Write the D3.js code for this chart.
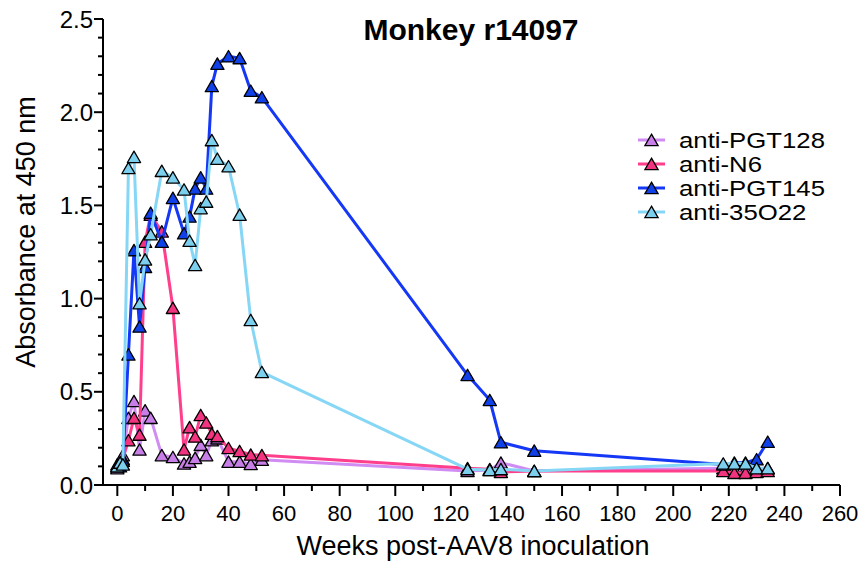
<!DOCTYPE html>
<html><head><meta charset="utf-8">
<script src="https://cdn.jsdelivr.net/npm/d3@7"></script>
<style>html,body{margin:0;padding:0;background:#fff;}svg{display:block;}</style>
</head><body>
<svg id="chart" width="867" height="564"></svg>
<script>
const title = "Monkey r14097";
const xLabel = "Weeks post-AAV8 inoculation";
const yLabel = "Absorbance at 450 nm";
const weeks = [0,1,2,4,6,8,10,12,16,20,24,26,28,30,32,34,36,40,44,48,52,126,134,138,150,218,222,226,230,234];
const seriesNames = ["anti-PGT128","anti-N6","anti-PGT145","anti-35O22"];
const pgt128 = [0.09,0.13,0.16,0.36,0.45,0.19,0.40,0.36,0.16,0.15,0.115,0.125,0.145,0.215,0.16,0.24,0.25,0.125,0.125,0.113,0.135,0.075,0.08,0.12,0.075,0.09,0.085,0.085,0.09,0.09];
const n6 = [0.10,0.12,0.14,0.24,0.36,0.27,1.305,1.45,1.36,0.95,0.19,0.31,0.26,0.375,0.335,0.275,0.262,0.198,0.182,0.163,0.16,0.09,0.085,0.07,0.075,0.075,0.065,0.065,0.07,0.075];
const pgt145 = [0.11,0.10,0.13,0.70,1.26,0.85,1.17,1.46,1.305,1.54,1.35,1.44,1.59,1.65,1.59,2.14,2.26,2.30,2.29,2.115,2.08,0.59,0.456,0.229,0.184,0.11,0.12,0.12,0.138,0.232];
const a35o22 = [0.10,0.12,0.11,1.70,1.76,0.975,1.21,1.345,1.685,1.65,1.585,1.31,1.18,1.485,1.52,1.85,1.75,1.71,1.45,0.885,0.606,0.085,0.08,0.085,0.075,0.115,0.115,0.115,0.09,0.09];
const lineColors = ["#d08cf2","#ff3f8c","#1438f5","#86d6f6"];
const fillColors = ["#c77ee6","#f2337f","#1040e8","#7cd0ee"];
const xTicks = [0,20,40,60,80,100,120,140,160,180,200,220,240,260];
const yTicks = [0.0,0.5,1.0,1.5,2.0,2.5];

const values = [pgt128, n6, pgt145, a35o22];
const series = seriesNames.map((name,i)=>({name, color: lineColors[i], fill: fillColors[i],
  pts: weeks.map((w,j)=>({w, v: values[i][j]})).filter(d=>d.v!=null)}));

const svg = d3.select("#chart");
const x = d3.scaleLinear().domain([-5.15,260]).range([103,840]);
const y = d3.scaleLinear().domain([0,2.5]).range([485,19]);
const font = "'Liberation Sans', Arial, Helvetica, sans-serif";

// axes
const xAxis = svg.append("g").attr("transform","translate(0,485)");
xAxis.append("line").attr("x1",103).attr("x2",x(260)).attr("stroke","#000").attr("stroke-width",2);
d3.range(0,261,10).forEach(t=>{
  const major = t%20===0;
  xAxis.append("line").attr("x1",x(t)).attr("x2",x(t)).attr("y1",0).attr("y2",major?11:6)
    .attr("stroke","#000").attr("stroke-width",2);
});
xAxis.selectAll("text.tl").data(xTicks).join("text").attr("class","tl")
  .attr("x",d=>x(d)).attr("y",36).attr("text-anchor","middle")
  .style("font-family",font).style("font-size","22px").text(d=>d);

const yAxis = svg.append("g").attr("transform","translate(103,0)");
yAxis.append("line").attr("y1",y(0)+1).attr("y2",y(2.5)).attr("stroke","#000").attr("stroke-width",2);
d3.range(0,26,1).forEach(k=>{
  const t=k/10; const major = k%5===0;
  yAxis.append("line").attr("x1",0).attr("x2",major?-9:-5).attr("y1",y(t)).attr("y2",y(t))
    .attr("stroke","#000").attr("stroke-width",2);
});
yAxis.selectAll("text.tl").data(yTicks).join("text").attr("class","tl")
  .attr("x",-10).attr("y",d=>y(d)).attr("dy","0.36em").attr("text-anchor","end")
  .style("font-family",font).style("font-size","24px").text(d=>d.toFixed(1));

// titles
svg.append("text").attr("x",471).attr("y",40).attr("text-anchor","middle")
  .style("font-family",font).style("font-size","30px").style("font-weight","bold").text(title);
svg.append("text").attr("x",473).attr("y",555).attr("text-anchor","middle")
  .style("font-family",font).style("font-size","27px").text(xLabel);
svg.append("text").attr("transform","translate(35,232) rotate(-90)").attr("text-anchor","middle")
  .style("font-family",font).style("font-size","27px").text(yLabel);

// marks
const tri = "M0,-5.8L6.6,5.6L-6.6,5.6Z";
const line = d3.line().x(d=>x(d.w)).y(d=>y(d.v));
series.forEach(s=>{
  const g = svg.append("g");
  g.append("path").attr("d",line(s.pts)).attr("fill","none").attr("stroke",s.color)
    .attr("stroke-width",3).attr("stroke-linejoin","round");
  g.selectAll("path.m").data(s.pts).join("path").attr("class","m")
    .attr("transform",d=>`translate(${x(d.w)},${y(d.v)})`).attr("d",tri)
    .attr("fill",s.fill).attr("stroke","#000").attr("stroke-width",1.3).attr("stroke-linejoin","round");
});

// legend
const lg = svg.append("g");
series.forEach((s,i)=>{
  const yy = 140 + i*24;
  lg.append("line").attr("x1",638).attr("x2",665).attr("y1",yy).attr("y2",yy).attr("stroke",s.color).attr("stroke-width",3);
  lg.append("path").attr("transform",`translate(651.5,${yy})`).attr("d",tri).attr("fill",s.fill).attr("stroke","#000").attr("stroke-width",1.3);
  lg.append("text").attr("transform",`translate(679,${yy}) scale(1.12,1)`).attr("dy","0.36em")
    .style("font-family",font).style("font-size","23px").text(s.name);
});
</script>
</body></html>
